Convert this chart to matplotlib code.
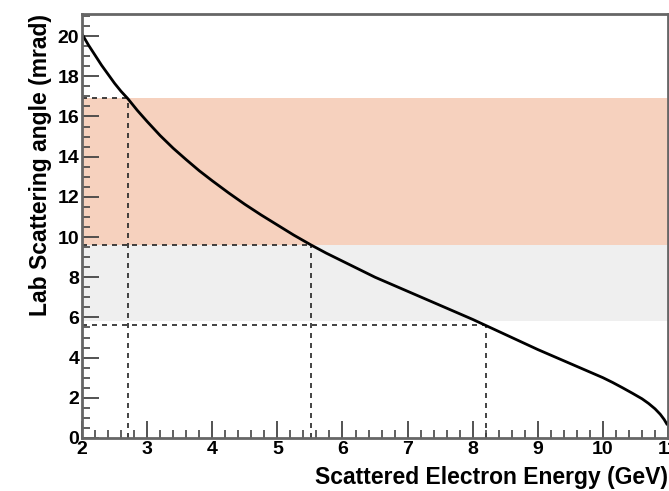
import matplotlib
matplotlib.use("Agg")
import matplotlib.pyplot as plt
from matplotlib.ticker import MultipleLocator

plt.rcParams['font.family'] = ['Liberation Sans', 'DejaVu Sans']
plt.rcParams['font.weight'] = 'bold'

# curve: scattered energy (GeV) vs lab angle (mrad)
energy = [2.0, 2.1, 2.2, 2.3, 2.4, 2.5, 2.6, 2.7, 2.85, 3.0, 3.2, 3.4, 3.6,
          3.8, 4.0, 4.25, 4.5, 4.75, 5.0, 5.25, 5.52, 5.75, 6.0, 6.25, 6.5,
          6.75, 7.0, 7.25, 7.5, 7.75, 8.0, 8.2, 8.4, 8.6, 8.8, 9.0, 9.2, 9.4,
          9.6, 9.8, 10.0, 10.15, 10.3, 10.45, 10.6, 10.7, 10.8, 10.88, 10.94, 10.98]
angle = [20.1, 19.55, 19.05, 18.55, 18.1, 17.65, 17.25, 16.9, 16.3, 15.75, 15.05, 14.42, 13.85,
         13.3, 12.8, 12.2, 11.63, 11.1, 10.6, 10.1, 9.6, 9.2, 8.8, 8.4, 8.0,
         7.65, 7.3, 6.95, 6.6, 6.25, 5.9, 5.6, 5.3, 5.0, 4.7, 4.4, 4.12, 3.84,
         3.56, 3.28, 3.0, 2.76, 2.5, 2.23, 1.95, 1.72, 1.45, 1.18, 0.92, 0.7]

# marked points (dashed guides)
mark_energy = [2.7, 5.52, 8.2]
mark_angle = [16.9, 9.6, 5.6]

# shaded bands (angle ranges)
salmon_band = [9.6, 16.9]
gray_band = [5.8, 9.6]

fig = plt.figure(figsize=(6.69, 4.91), dpi=100)
ax = fig.add_axes([0.1226, 0.108, 0.876, 0.8635])

ax.axhspan(salmon_band[0], salmon_band[1], color='#f6d1be', lw=0, zorder=0)
ax.axhspan(gray_band[0], gray_band[1], color='#efefef', lw=0, zorder=0)

for e, a in zip(mark_energy, mark_angle):
    ax.plot([2, e], [a, a], color='#222222', lw=1.2, ls=(0, (3, 3)), zorder=1)
    ax.plot([e, e], [0, a], color='#222222', lw=1.2, ls=(0, (3, 3)), zorder=1)

ax.plot(energy, angle, color='black', lw=2, zorder=2)

ax.set_xlim(2, 11)
ax.set_ylim(0, 21.1)
ax.xaxis.set_major_locator(MultipleLocator(1))
ax.xaxis.set_minor_locator(MultipleLocator(0.2))
ax.yaxis.set_major_locator(MultipleLocator(2))
ax.yaxis.set_minor_locator(MultipleLocator(0.5))
ax.tick_params(which='major', direction='in', length=12, width=1.3,
               color='#444444', labelsize=14, pad=2)
ax.tick_params(which='minor', direction='in', length=6, width=1.2, color='#444444')
ax.tick_params(top=False, right=False, which='both')

for s in ax.spines.values():
    s.set_color('#666666')
    s.set_linewidth(2)

ax.set_xlabel('Scattered Electron Energy (GeV)', fontsize=16.5, fontweight='bold',
              loc='right', labelpad=6)
ax.set_ylabel('Lab Scattering angle (mrad)', fontsize=16.5, fontweight='bold',
              loc='top', labelpad=4)

fig.savefig('out.png', dpi=100)
